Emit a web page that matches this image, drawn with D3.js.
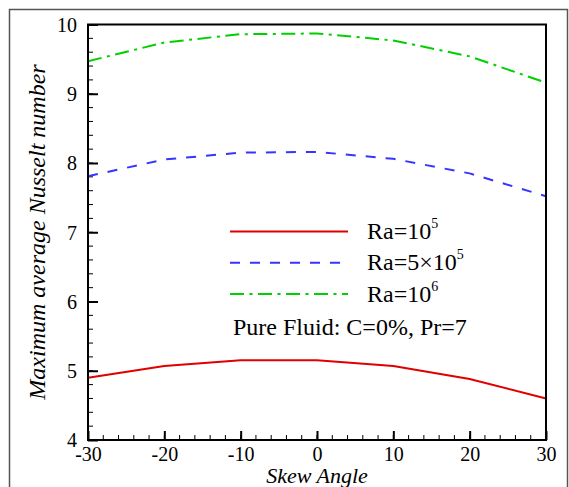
<!DOCTYPE html>
<html>
<head>
<meta charset="utf-8">
<script src="https://cdn.jsdelivr.net/npm/d3@7"></script>
<style>
  body { margin: 0; background: #fff; }
  text { font-family: "Liberation Serif", "Times New Roman", serif; fill: #000; }
</style>
</head>
<body>
<svg id="chart" width="569" height="487"></svg>
<script>
// ---- data ----
const angles = [-30, -20, -10, 0, 10, 20, 30];
const nuRa1e5 = [4.90, 5.07, 5.15, 5.15, 5.07, 4.88, 4.60];
const nuRa5e5 = [7.81, 8.05, 8.15, 8.16, 8.06, 7.85, 7.52];
const nuRa1e6 = [9.47, 9.74, 9.86, 9.87, 9.77, 9.54, 9.16];
const xTicks = [-30, -20, -10, 0, 10, 20, 30];
const yTicks = [4, 5, 6, 7, 8, 9, 10];

const series = [
  { base: "Ra=10", mid: "", sup: "5", values: nuRa1e5, color: "#e00000", dash: null },
  { base: "Ra=5", mid: "×10", sup: "5", values: nuRa5e5, color: "#3535ff", dash: "10,10" },
  { base: "Ra=10", mid: "", sup: "6", values: nuRa1e6, color: "#00d000", dash: "14,5.5,3,5.5" }
];

const svg = d3.select("#chart");
const plotL = 88, plotR = 546, plotT = 24.5, plotB = 440;

const x = d3.scaleLinear().domain([-30, 30]).range([plotL, plotR]);
const y = d3.scaleLinear().domain([4, 10]).range([plotB, plotT]);

// outer frame
svg.append("rect")
  .attr("x", 9.5).attr("y", 9.5)
  .attr("width", 558).attr("height", 500)
  .attr("fill", "none").attr("stroke", "#555").attr("stroke-width", 1.5);

// minor ticks
const xMinor = d3.range(-30, 30.01, 2);
const yMinor = d3.range(4, 10.01, 0.2);
svg.append("g").selectAll("line").data(xMinor).enter().append("line")
  .attr("x1", d => x(d)).attr("x2", d => x(d))
  .attr("y1", plotB).attr("y2", plotB - 5)
  .attr("stroke", "#000").attr("stroke-width", 1);
svg.append("g").selectAll("line").data(yMinor).enter().append("line")
  .attr("x1", plotL).attr("x2", plotL + 5)
  .attr("y1", d => y(d)).attr("y2", d => y(d))
  .attr("stroke", "#000").attr("stroke-width", 1);

// major ticks + labels via axes (plain hyphen for negatives)
const fmt = d => String(d);

const xAxis = svg.append("g")
  .attr("transform", `translate(0,${plotB})`)
  .call(d3.axisTop(x).tickValues(xTicks).tickSize(9).tickFormat(fmt))
  .attr("font-family", null);
xAxis.select(".domain").remove();
xAxis.selectAll(".tick line").attr("stroke-width", 2);
xAxis.selectAll(".tick text")
  .attr("y", 21).attr("dy", null)
  .style("font-size", "20px");

const yAxis = svg.append("g")
  .attr("transform", `translate(${plotL},0)`)
  .call(d3.axisRight(y).tickValues(yTicks).tickSize(10).tickFormat(fmt))
  .attr("font-family", null);
yAxis.select(".domain").remove();
yAxis.selectAll(".tick line").attr("stroke-width", 2);
yAxis.selectAll(".tick text")
  .attr("x", -11).attr("dy", "0.34em")
  .attr("text-anchor", "end")
  .style("font-size", "20px");

// curves
const line = d3.line()
  .x((d, i) => x(angles[i]))
  .y(d => y(d));

svg.append("g").selectAll("path").data(series).enter().append("path")
  .attr("d", d => line(d.values))
  .attr("fill", "none")
  .attr("stroke", d => d.color)
  .attr("stroke-width", 2)
  .attr("stroke-dasharray", d => d.dash);

// plot box
svg.append("rect")
  .attr("x", plotL).attr("y", plotT)
  .attr("width", plotR - plotL).attr("height", plotB - plotT)
  .attr("fill", "none").attr("stroke", "#000").attr("stroke-width", 2);

// legend
const legend = svg.append("g");
series.forEach((s, i) => {
  const ly = 231.5 + i * 31.3;
  legend.append("line")
    .attr("x1", 230).attr("x2", i === 1 ? 340 : 348)
    .attr("y1", ly).attr("y2", ly)
    .attr("stroke", s.color).attr("stroke-width", 2)
    .attr("stroke-dasharray", s.dash);
  const t = legend.append("text")
    .attr("x", 367).attr("y", ly + 7.5)
    .style("font-size", "24px");
  t.append("tspan").text(s.base);
  if (s.mid) t.append("tspan").text(s.mid);
  t.append("tspan").attr("dy", -11).style("font-size", "14px").text(s.sup);
});
legend.append("text")
  .attr("x", 233).attr("y", 335)
  .style("font-size", "24px")
  .text("Pure Fluid: C=0%, Pr=7");

// axis titles
svg.append("text")
  .attr("x", 317).attr("y", 483)
  .attr("text-anchor", "middle")
  .style("font-size", "22px").style("font-style", "italic")
  .text("Skew Angle");

svg.append("text")
  .attr("transform", "translate(45,232) rotate(-90)")
  .attr("text-anchor", "middle")
  .style("font-size", "24px").style("font-style", "italic")
  .text("Maximum average Nusselt number");
</script>
</body>
</html>
